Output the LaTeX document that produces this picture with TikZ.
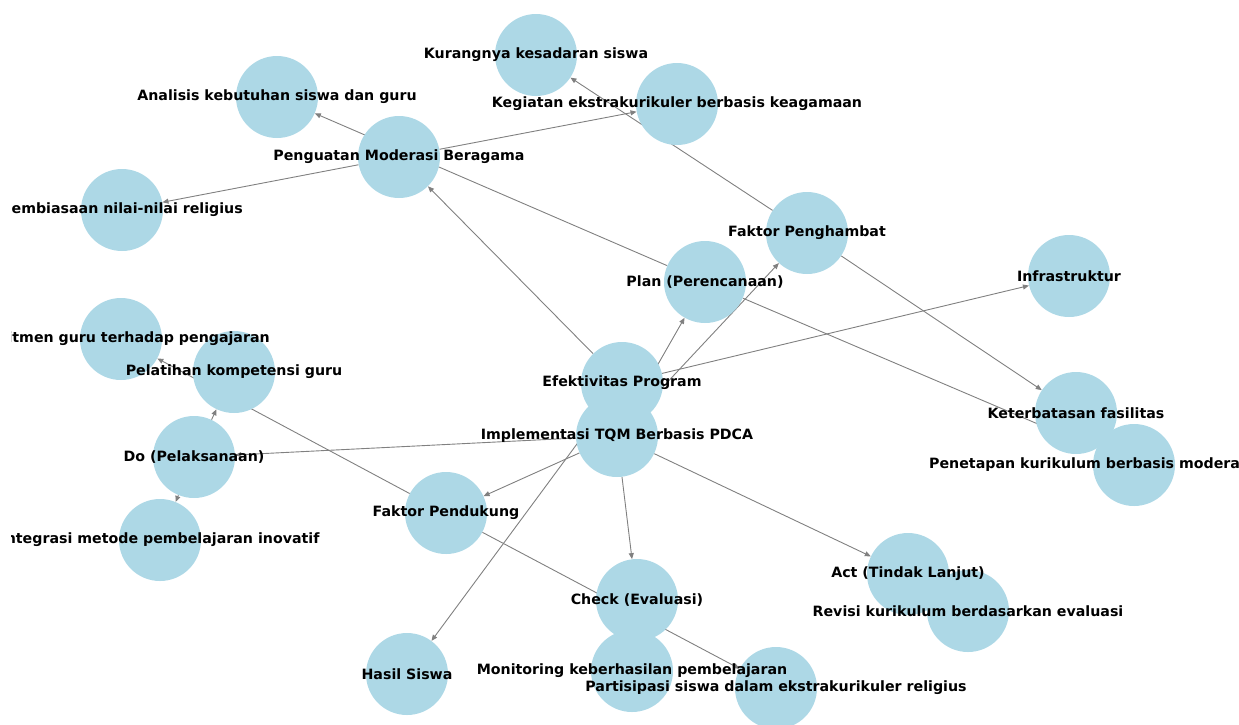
\documentclass[tikz,border=0pt]{standalone}
\usepackage{fontspec}
\setmainfont{DejaVu Sans}
\usetikzlibrary{arrows.meta,backgrounds}
\definecolor{nodeblue}{RGB}{173,216,230}
\definecolor{edgegray}{RGB}{128,128,128}

\begin{document}
\begin{tikzpicture}[x=1pt,y=-1pt,
  vtx/.style={circle, fill=nodeblue, minimum size=82pt, inner sep=0pt},
  lbl/.style={font=\fontsize{14.2}{16}\selectfont\bfseries, inner sep=0pt},
  arr/.style={-{Triangle[length=6pt,width=5pt]}, edgegray, line width=0.9pt}]
\useasboundingbox (0,0) rectangle (1239,724);
\clip (11,0) rectangle (1239,724);
% Circles
\node[vtx] (tqm) at (617,436) {};
\node[vtx] (efk) at (622,383) {};
\node[vtx] (plan) at (705,282) {};
\node[vtx] (do) at (194,457) {};
\node[vtx] (chk) at (637,600) {};
\node[vtx] (act) at (908,574) {};
\node[vtx] (pmb) at (399,157) {};
\node[vtx] (fpd) at (446,513) {};
\node[vtx] (fph) at (807,233) {};
\node[vtx] (ana) at (277,97) {};
\node[vtx] (pen) at (1134,465) {};
\node[vtx] (pel) at (234,372) {};
\node[vtx] (int) at (160,540) {};
\node[vtx] (mon) at (632,671) {};
\node[vtx] (rev) at (968,611) {};
\node[vtx] (pbs) at (122,210) {};
\node[vtx] (keg) at (677,104) {};
\node[vtx] (kom) at (121,339) {};
\node[vtx] (par) at (776,688) {};
\node[vtx] (kur) at (536,55) {};
\node[vtx] (ket) at (1076,413) {};
\node[vtx] (has) at (407,674) {};
\node[vtx] (inf) at (1069,276) {};
% Connectors, under the circles
\begin{scope}[on background layer]
\draw[arr] (tqm) -- (efk);
\draw[arr] (tqm) -- (plan);
\draw[arr] (tqm) -- (do);
\draw[arr] (tqm) -- (chk);
\draw[arr] (tqm) -- (act);
\draw[arr] (tqm) -- (fpd);
\draw[arr] (tqm) -- (fph);
\draw[arr] (efk) -- (pmb);
\draw[arr] (efk) -- (inf);
\draw[arr] (efk) -- (has);
\draw[arr] (pmb) -- (pbs);
\draw[arr] (pmb) -- (keg);
\draw[arr] (plan) -- (ana);
\draw[arr] (plan) -- (pen);
\draw[arr] (do) -- (pel);
\draw[arr] (do) -- (int);
\draw[arr] (chk) -- (mon);
\draw[arr] (act) -- (rev);
\draw[arr] (fph) -- (kur);
\draw[arr] (fph) -- (ket);
\draw[arr] (fpd) -- (kom);
\draw[arr] (fpd) -- (par);
\end{scope}
% Labels
\node[lbl] (tqm-t) at (tqm) {Implementasi TQM Berbasis PDCA};
\node[lbl] (efk-t) at (efk) {Efektivitas Program};
\node[lbl] (plan-t) at (plan) {Plan (Perencanaan)};
\node[lbl] (do-t) at (do) {Do (Pelaksanaan)};
\node[lbl] (chk-t) at (chk) {Check (Evaluasi)};
\node[lbl] (act-t) at (act) {Act (Tindak Lanjut)};
\node[lbl] (pmb-t) at (pmb) {Penguatan Moderasi Beragama};
\node[lbl] (fpd-t) at (fpd) {Faktor Pendukung};
\node[lbl] (fph-t) at (fph) {Faktor Penghambat};
\node[lbl] (ana-t) at (ana) {Analisis kebutuhan siswa dan guru};
\node[lbl] (pen-t) at (pen) {Penetapan kurikulum berbasis moderasi beragama};
\node[lbl] (pel-t) at (pel) {Pelatihan kompetensi guru};
\node[lbl] (int-t) at (int) {Integrasi metode pembelajaran inovatif};
\node[lbl] (mon-t) at (mon) {Monitoring keberhasilan pembelajaran};
\node[lbl] (rev-t) at (rev) {Revisi kurikulum berdasarkan evaluasi};
\node[lbl] (pbs-t) at (pbs) {Pembiasaan nilai-nilai religius};
\node[lbl] (keg-t) at (keg) {Kegiatan ekstrakurikuler berbasis keagamaan};
\node[lbl] (kom-t) at (kom) {Komitmen guru terhadap pengajaran};
\node[lbl] (par-t) at (par) {Partisipasi siswa dalam ekstrakurikuler religius};
\node[lbl] (kur-t) at (kur) {Kurangnya kesadaran siswa};
\node[lbl] (ket-t) at (ket) {Keterbatasan fasilitas};
\node[lbl] (has-t) at (has) {Hasil Siswa};
\node[lbl] (inf-t) at (inf) {Infrastruktur};
\end{tikzpicture}
\end{document}
